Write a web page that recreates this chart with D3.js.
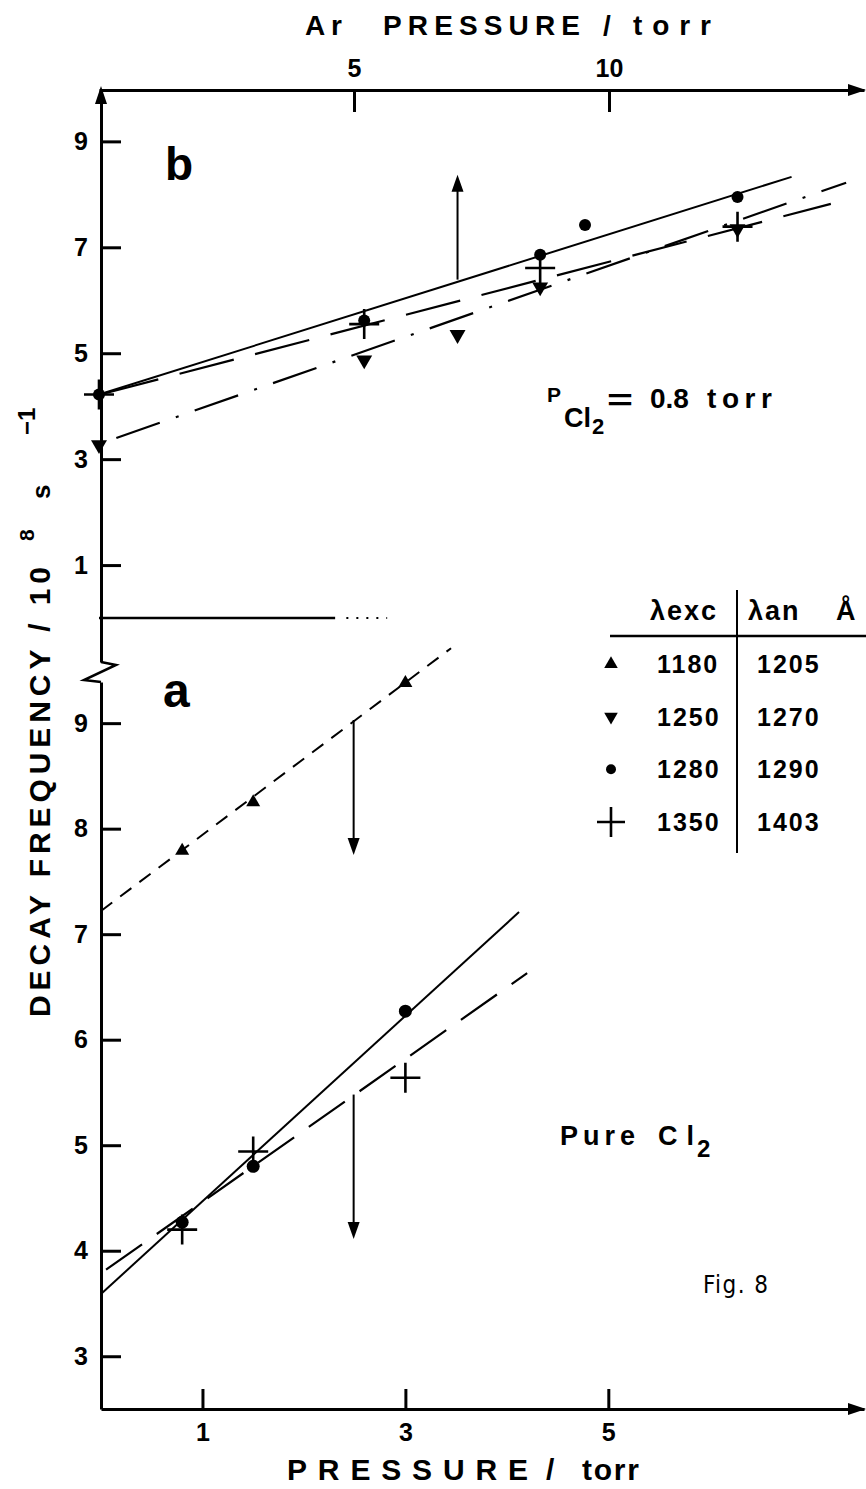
<!DOCTYPE html>
<html>
<head>
<meta charset="utf-8">
<script src="https://cdn.jsdelivr.net/npm/d3@7"></script>
<style>
  body { margin: 0; background: #fff; }
  svg { display: block; }
  text { font-family: "Liberation Sans", Arial, Helvetica, sans-serif; font-weight: bold; fill: #000; }
</style>
</head>
<body>
<svg id="chart" width="866" height="1489"></svg>
<script>
// ---------- panel a : pure Cl2, x = Cl2 pressure (torr) ----------
const aTriUp   = [[0.8, 7.79], [1.5, 8.25], [3.0, 9.38]];          // λexc 1180 / λan 1205
const aCircles = [[0.8, 4.27], [1.5, 4.80], [3.0, 6.27]];          // 1280 / 1290
const aCrosses = [[0.8, 4.20], [1.5, 4.94], [3.0, 5.64]];          // 1350 / 1403
const aFit1205 = [[0.0, 7.22], [3.45, 9.71]];
const aFit1290 = [[0.0, 3.59], [4.12, 7.21]];
const aFit1403 = [[0.05, 3.82], [4.20, 6.63]];
const aArrows  = [[2.49, 9.03, 7.75], [2.49, 5.48, 4.11]];         // [x, from, to]

// ---------- panel b : Cl2 0.8 torr + Ar, x = Ar pressure (torr) ----------
const bTriDown = [[0.0, 3.27], [5.2, 4.87], [7.03, 5.35], [8.65, 6.25], [12.52, 7.35]]; // 1250 / 1270
const bCircles = [[0.0, 4.22], [5.2, 5.62], [8.65, 6.86], [9.53, 7.42], [12.52, 7.95]];
const bCrosses = [[0.0, 4.22], [5.2, 5.55], [8.65, 6.61], [12.52, 7.39]];
const bFit1290 = [[0.0, 4.22], [13.58, 8.33]];
const bFit1403 = [[0.1, 4.24], [14.35, 7.82]];
const bFit1270 = [[0.34, 3.40], [14.65, 8.22]];
const bArrows  = [[7.03, 6.39, 8.37]];
const bZero    = [[0.0, 0.0], [4.63, 0.0]];
const bZeroDot = [[4.85, 0.0], [5.65, 0.0]];

// ---------- axes ticks ----------
const ticksAr = [5, 10];
const ticksP  = [1, 3, 5];
const ticksYb = [1, 3, 5, 7, 9];
const ticksYa = [3, 4, 5, 6, 7, 8, 9];

// ---------- legend ----------
const legendHead = ["λexc", "λan", "Å"];
const legendRows = [
  { sym: "triUp",   exc: "1180", an: "1205" },
  { sym: "triDown", exc: "1250", an: "1270" },
  { sym: "circle",  exc: "1280", an: "1290" },
  { sym: "cross",   exc: "1350", an: "1403" }
];

const svg = d3.select("#chart");
const AX = 101;           // x of the vertical axis

const xP  = d3.scaleLinear().domain([0, 7.52]).range([AX, 864]);
const xAr = d3.scaleLinear().domain([0, 15]).range([99, 864]);
const yB  = d3.scaleLinear().domain([-0.83, 9.97]).range([662, 90]);
const yA  = d3.scaleLinear().domain([2.5, 9.39]).range([1409, 682]);

function styleAxis(g, fs) {
  g.attr("font-family", null).attr("font-size", null);
  g.selectAll("path.domain").attr("stroke", "#000").attr("stroke-width", 3);
  g.selectAll(".tick line").attr("stroke", "#000").attr("stroke-width", 3);
  g.selectAll(".tick text").attr("font-size", fs).attr("fill", "#000");
}
const fmt = d3.format("d");

// top Ar axis
const gTop = svg.append("g").attr("transform", "translate(0,90)")
  .call(d3.axisTop(xAr).tickValues(ticksAr).tickFormat(fmt).tickSizeInner(-22).tickSizeOuter(0).tickPadding(13));
styleAxis(gTop, 25);

// bottom pressure axis
const gBot = svg.append("g").attr("transform", "translate(0,1409)")
  .call(d3.axisBottom(xP).tickValues(ticksP).tickFormat(fmt).tickSizeInner(-20).tickSizeOuter(0).tickPadding(14));
styleAxis(gBot, 25);

// left axes, upper (b) and lower (a)
const gYb = svg.append("g").attr("transform", `translate(${AX},0)`)
  .call(d3.axisLeft(yB).tickValues(ticksYb).tickFormat(fmt).tickSizeInner(-20).tickSizeOuter(0).tickPadding(13));
styleAxis(gYb, 25);
const gYa = svg.append("g").attr("transform", `translate(${AX},0)`)
  .call(d3.axisLeft(yA).tickValues(ticksYa).tickFormat(fmt).tickSizeInner(-20).tickSizeOuter(0).tickPadding(13));
styleAxis(gYa, 25);

// axis break and arrow heads
const ink = svg.append("g");
ink.append("path").attr("d", `M${AX},${yB.range()[0]} L${AX + 15},665 L${AX - 17},680 L${AX},${yA.range()[1]}`)
  .attr("fill", "none").attr("stroke", "#000").attr("stroke-width", 2.5);
function head(x, y, dir, len, half) {
  let d;
  if (dir === "up") d = `M${x},${y} L${x - half},${y + len} L${x + half},${y + len}Z`;
  else if (dir === "down") d = `M${x},${y} L${x - half},${y - len} L${x + half},${y - len}Z`;
  else d = `M${x},${y} L${x - len},${y - half} L${x - len},${y + half}Z`;
  ink.append("path").attr("d", d).attr("fill", "#000");
}
head(AX, yB.range()[1] - 4, "up", 18, 6);
head(866, 90, "right", 18, 6);
head(866, 1409, "right", 18, 6);

// ---------- marks ----------
const marks = svg.append("g");
function fit(pts, xs, ys, dash, w) {
  marks.append("path").datum(pts)
    .attr("d", d3.line().x(d => xs(d[0])).y(d => ys(d[1])))
    .attr("fill", "none").attr("stroke", "#000").attr("stroke-width", w || 2)
    .attr("stroke-dasharray", dash || null);
}
function triangles(pts, xs, ys, size, down) {
  marks.selectAll(null).data(pts).join("path")
    .attr("transform", d => `translate(${xs(d[0])},${ys(d[1])})${down ? " rotate(180)" : ""}`)
    .attr("d", d3.symbol(d3.symbolTriangle, size)).attr("fill", "#000");
}
function dots(pts, xs, ys, r) {
  marks.selectAll(null).data(pts).join("circle")
    .attr("cx", d => xs(d[0])).attr("cy", d => ys(d[1])).attr("r", r).attr("fill", "#000");
}
function crosses(pts, xs, ys, h) {
  marks.selectAll(null).data(pts).join("path")
    .attr("d", d => { const x = xs(d[0]), y = ys(d[1]); return `M${x - h},${y}H${x + h}M${x},${y - h}V${y + h}`; })
    .attr("stroke", "#000").attr("stroke-width", 2.6).attr("fill", "none");
}
function arrows(list, xs, ys) {
  list.forEach(([x, from, to]) => {
    const px = xs(x), y0 = ys(from), y1 = ys(to);
    const dir = y1 < y0 ? "up" : "down";
    marks.append("line").attr("x1", px).attr("x2", px).attr("y1", y0)
      .attr("y2", dir === "up" ? y1 + 12 : y1 - 12).attr("stroke", "#000").attr("stroke-width", 2);
    head(px, y1, dir, 17, 6);
  });
}

// panel b
fit(bZero, xAr, yB, null, 2.5);
fit(bZeroDot, xAr, yB, "2,8", 2);
fit(bFit1290, xAr, yB, null, 2);
fit(bFit1403, xAr, yB, "56,22", 2.2);
fit(bFit1270, xAr, yB, "46,17,3,17", 2.2);
dots(bCircles, xAr, yB, 6);
crosses(bCrosses, xAr, yB, 15);
triangles(bTriDown, xAr, yB, 110, true);
arrows(bArrows, xAr, yB);

// panel a
fit(aFit1205, xP, yA, "14,10", 2);
fit(aFit1290, xP, yA, null, 2);
fit(aFit1403, xP, yA, "44,18", 2.2);
dots(aCircles, xP, yA, 6.5);
crosses(aCrosses, xP, yA, 15);
triangles(aTriUp, xP, yA, 85, false);
arrows(aArrows, xP, yA);

// ---------- legend table ----------
const lg = svg.append("g");
lg.append("line").attr("x1", 610).attr("x2", 866).attr("y1", 636).attr("y2", 636)
  .attr("stroke", "#000").attr("stroke-width", 2.5);
lg.append("line").attr("x1", 737).attr("x2", 737).attr("y1", 590).attr("y2", 853)
  .attr("stroke", "#000").attr("stroke-width", 2);
lg.append("text").attr("x", 650).attr("y", 620).attr("font-size", 27).attr("letter-spacing", 2).text(legendHead[0]);
lg.append("text").attr("x", 748).attr("y", 620).attr("font-size", 27).attr("letter-spacing", 2).text(legendHead[1]);
lg.append("text").attr("x", 836).attr("y", 620).attr("font-size", 27).text(legendHead[2]);
const rowY = d3.scalePoint().domain(legendRows.map(d => d.exc)).range([664, 822]);
legendRows.forEach(r => {
  const cy = rowY(r.exc), sx = 611;
  if (r.sym === "triUp") lg.append("path").attr("transform", `translate(${sx},${cy})`).attr("d", d3.symbol(d3.symbolTriangle, 80));
  if (r.sym === "triDown") lg.append("path").attr("transform", `translate(${sx},${cy}) rotate(180)`).attr("d", d3.symbol(d3.symbolTriangle, 80));
  if (r.sym === "circle") lg.append("circle").attr("cx", sx).attr("cy", cy).attr("r", 5);
  if (r.sym === "cross") lg.append("path").attr("d", `M${sx - 14},${cy}H${sx + 14}M${sx},${cy - 15}V${cy + 15}`)
    .attr("stroke", "#000").attr("stroke-width", 2.6);
  lg.append("text").attr("x", 657).attr("y", cy + 9).attr("font-size", 25).attr("letter-spacing", 2).text(r.exc);
  lg.append("text").attr("x", 757).attr("y", cy + 9).attr("font-size", 25).attr("letter-spacing", 2).text(r.an);
});

// ---------- labels ----------
const lab = svg.append("g");
lab.append("text").attr("x", 305).attr("y", 35).attr("font-size", 28).attr("textLength", 37).text("Ar");
lab.append("text").attr("x", 383).attr("y", 35).attr("font-size", 28).attr("textLength", 197).attr("lengthAdjust", "spacing").text("PRESSURE");
lab.append("text").attr("x", 603).attr("y", 35).attr("font-size", 28).text("/");
lab.append("text").attr("x", 633).attr("y", 35).attr("font-size", 28).attr("textLength", 78).attr("lengthAdjust", "spacing").text("torr");

lab.append("text").attr("x", 287).attr("y", 1480).attr("font-size", 30).attr("textLength", 241).attr("lengthAdjust", "spacing").text("PRESSURE");
lab.append("text").attr("x", 546).attr("y", 1480).attr("font-size", 30).text("/");
lab.append("text").attr("x", 582).attr("y", 1480).attr("font-size", 30).attr("textLength", 57).attr("lengthAdjust", "spacing").text("torr");

const yl = lab.append("g").attr("transform", "translate(50,1017) rotate(-90)");
yl.append("text").attr("x", 0).attr("y", 0).attr("font-size", 30).attr("textLength", 450).attr("lengthAdjust", "spacing").text("DECAY FREQUENCY / 10");
yl.append("text").attr("x", 476).attr("y", -16).attr("font-size", 21).text("8");
yl.append("text").attr("x", 518).attr("y", 0).attr("font-size", 26).text("s");
yl.append("text").attr("x", 582).attr("y", -15).attr("font-size", 24).text("−1");

lab.append("text").attr("x", 165).attr("y", 180).attr("font-size", 46).text("b");
lab.append("text").attr("x", 163).attr("y", 707).attr("font-size", 48).text("a");

// P(Cl2) = 0.8 torr
lab.append("text").attr("x", 547).attr("y", 402).attr("font-size", 21).text("P");
lab.append("text").attr("x", 564).attr("y", 427).attr("font-size", 27).attr("textLength", 27).attr("lengthAdjust", "spacing").text("Cl");
lab.append("text").attr("x", 592).attr("y", 434).attr("font-size", 22).text("2");
lab.append("text").attr("x", 607).attr("y", 410).attr("font-size", 30).attr("textLength", 26).attr("lengthAdjust", "spacingAndGlyphs").text("=");
lab.append("text").attr("x", 650).attr("y", 408).attr("font-size", 28).text("0.8");
lab.append("text").attr("x", 707).attr("y", 408).attr("font-size", 28).attr("textLength", 65).attr("lengthAdjust", "spacing").text("torr");

lab.append("text").attr("x", 560).attr("y", 1145).attr("font-size", 27).attr("textLength", 75).attr("lengthAdjust", "spacing").text("Pure");
lab.append("text").attr("x", 658).attr("y", 1145).attr("font-size", 27).attr("textLength", 36).attr("lengthAdjust", "spacing").text("Cl");
lab.append("text").attr("x", 697).attr("y", 1157).attr("font-size", 24).text("2");

lab.append("text").attr("x", 703).attr("y", 1293).attr("font-size", 24)
  .style("font-family", "'Liberation Sans Narrow','DejaVu Sans Condensed',sans-serif")
  .style("font-weight", "normal").attr("fill", "#444").attr("textLength", 65).text("Fig. 8");
</script>
</body>
</html>
